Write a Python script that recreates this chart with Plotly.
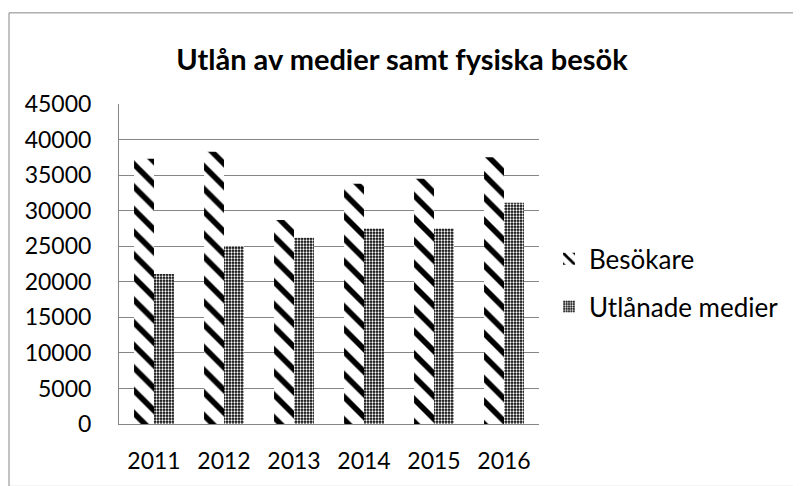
import plotly.graph_objects as go

years = ["2011", "2012", "2013", "2014", "2015", "2016"]
besokare = [37300, 38300, 28700, 33800, 34500, 37500]
utlanade = [21100, 25000, 26200, 27500, 27500, 31100]
y_ticks = [0, 5000, 10000, 15000, 20000, 25000, 30000, 35000, 40000, 45000]

FONT = "Lato, 'Open Sans', sans-serif"

# page body has an 8px margin; figure shrunk and shifted to compensate
W, H = 793, 478
PL, PT, PW, PH = 111, 96, 420, 323  # plot area in figure coords

fig = go.Figure()
fig.add_trace(go.Bar(
    x=years, y=besokare, name="Besökare", legendgroup="a",
    marker=dict(color="white", line=dict(width=0),
                pattern=dict(shape="\\", fgcolor="black", bgcolor="white",
                             fgopacity=1, size=16, solidity=0.35,
                             fillmode="replace")),
))
fig.add_trace(go.Bar(
    x=years, y=utlanade, name="Utlånade medier", legendgroup="b",
    marker=dict(color="black", line=dict(width=0),
                pattern=dict(shape=".", fgcolor="white", bgcolor="black",
                             fgopacity=1, size=3, solidity=0.45,
                             fillmode="replace")),
))

fig.update_layout(
    width=W, height=H,
    margin=dict(l=PL, r=W - PL - PW, t=PT, b=H - PT - PH),
    paper_bgcolor="white", plot_bgcolor="white",
    font=dict(family=FONT, size=23, color="black"),
    title=dict(text="<b>Utlån av medier samt fysiska besök</b>",
               x=(402 - 119) / 420, xref="paper", xanchor="center",
               y=1 - 52 / H, yanchor="middle",
               font=dict(size=29, family=FONT)),
    barmode="group", bargap=0.43, bargroupgap=0,
    showlegend=True,
    legend=dict(x=(549 - 119) / 420, y=0.441, xanchor="left", yanchor="middle",
                traceorder="grouped", tracegroupgap=11,
                font=dict(size=26, family=FONT),
                itemwidth=30),
    xaxis=dict(showline=True, linecolor="#868686", linewidth=1,
               ticks="", tickfont=dict(size=23), showgrid=False,
               ticklabelstandoff=16),
    yaxis=dict(range=[0, 45000], tickvals=y_ticks,
               ticktext=[str(v) for v in y_ticks],
               showgrid=True, gridcolor="#868686", gridwidth=1,
               showline=True, linecolor="#868686", linewidth=1,
               ticks="", tickfont=dict(size=23), zeroline=False,
               ticklabelstandoff=22),
    shapes=[dict(type="rect", xref="paper", yref="paper",
                 x0=(9 - 119) / 420, x1=(795 - 119) / 420,
                 y0=(427 - 490) / 323, y1=(427 - 12) / 323,
                 line=dict(color="#868686", width=1), fillcolor="rgba(0,0,0,0)",
                 layer="below")],
)

fig.write_html("out.html")
